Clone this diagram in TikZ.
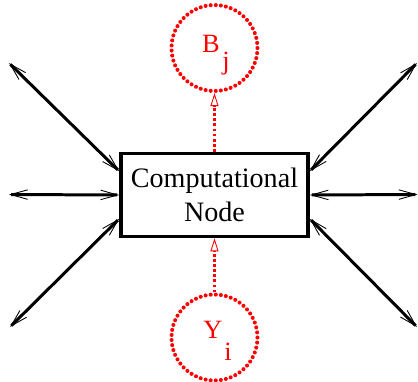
\documentclass[tikz,border=0pt]{standalone}
\usepackage{fontspec}
\setmainfont{Liberation Serif}
\usepackage{tikz}
\usetikzlibrary{arrows.meta,positioning}

\tikzset{
  link/.style={line width=1.7pt, {Straight Barb[length=3.4mm,width=1.9mm,line width=0.5pt]}-{Straight Barb[length=3.4mm,width=1.9mm,line width=0.5pt]}},
  feed/.style={red, line width=1.7pt, dash pattern=on 1.6pt off 1.3pt, -{Triangle[open,length=2.6mm,width=1.6mm,line width=0.5pt]}},
  ring/.style={circle, draw=red, line width=2.3pt, line cap=round, dash pattern=on 0pt off 2.9pt, minimum size=1.72cm, inner sep=0pt},
  lbl/.style={red, font=\fontsize{15}{18}\selectfont, inner sep=0pt}
}

\begin{document}
\begin{tikzpicture}
    \useasboundingbox (-4.29, -3.74) rectangle (4.07, 3.9);

    % Central box
    \node[draw, line width=2pt, minimum width=3.74cm, minimum height=1.66cm, align=center,
          font=\fontsize{16}{19}\selectfont] (comp) at (0, 0) {Computational\\Node};

    % Circles
    \node[ring] (bring) at (0, 2.94) {};
    \node[lbl] (bname) at (-0.07, 3.02) {B};
    \node[lbl] (bidx) at (0.23, 2.62) {j};

    \node[ring] (yring) at (0, -2.85) {};
    \node[lbl] (yname) at (-0.03, -2.70) {Y};
    \node[lbl] (yidx) at (0.27, -3.14) {i};

    % Free ends
    \coordinate (lu) at (-4.11, 2.64);
    \coordinate (lm) at (-4.11, 0.01);
    \coordinate (ll) at (-4.09, -2.64);
    \coordinate (ru) at (4.05, 2.64);
    \coordinate (rm) at (4.06, 0.01);
    \coordinate (rl) at (4.05, -2.64);

    % Arrows
    \draw[link] (lu) -- (comp.166);
    \draw[link] (lm) -- (comp.west);
    \draw[link] (ll) -- (comp.194);
    \draw[link] (comp.14) -- (ru);
    \draw[link] (comp.east) -- (rm);
    \draw[link] (comp.-14) -- (rl);

    % Dotted feeds
    \draw[feed] (comp.north) -- (bring.south);
    \draw[feed] (yring.north) -- (comp.south);
\end{tikzpicture}
\end{document}
